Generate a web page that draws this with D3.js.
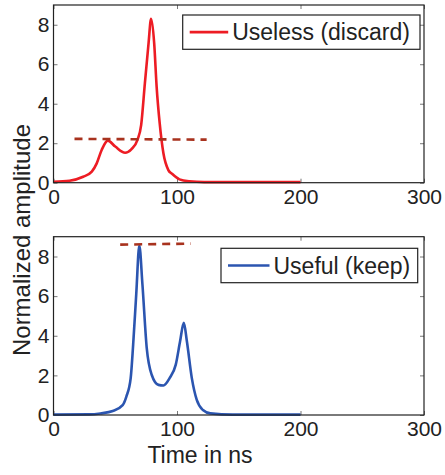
<!DOCTYPE html>
<html>
<head>
<meta charset="utf-8">
<script src="https://cdn.jsdelivr.net/npm/d3@7"></script>
<style>
  body { margin: 0; background: #fff; }
  text { font-family: "Liberation Sans", Arial, sans-serif; fill: #222; }
</style>
</head>
<body>
<div id="chart"></div>
<script>
// Two stacked waveform panels

// Data
var uselessTime = [0, 13, 24, 31, 35, 39, 44, 50, 58, 63, 68, 71, 74, 77, 79, 81.5, 83.5, 86, 89, 93, 96, 102, 110, 122, 200];
var uselessAmp  = [0.05, 0.1, 0.3, 0.56, 0.98, 1.66, 2.13, 1.83, 1.52, 1.69, 2.17, 2.93, 5.04, 7.08, 8.3, 7.08, 4.87, 3.0, 1.49, 0.64, 0.45, 0.17, 0.07, 0.03, 0.03];
var usefulTime = [0, 29, 38, 48, 56, 59, 62.5, 64.5, 67, 69.5, 72, 75.5, 79.5, 85, 89, 94, 99, 102.5, 105.5, 108, 112, 116, 121, 127, 145, 200];
var usefulAmp  = [0.02, 0.03, 0.08, 0.2, 0.5, 0.93, 1.86, 3.55, 6.1, 8.55, 6.6, 3.38, 2.03, 1.52, 1.49, 1.86, 2.54, 3.72, 4.65, 3.72, 1.86, 0.76, 0.25, 0.08, 0.02, 0.02];

// dashed threshold lines
var uselessThreshTime = [17, 124];
var uselessThreshAmp = [2.22, 2.18];
var usefulThreshTime = [54, 111];
var usefulThreshAmp = [8.6, 8.65];

var xTicks = [0, 100, 200, 300];
var yTicks = [0, 2, 4, 6, 8];
var legendLabels = ["Useless (discard)", "Useful (keep)"];

// SVG Dimensions
var svgWidth = 445;
var svgHeight = 475;

var left = 53.5, right = 424;

var svg = d3.select("#chart")
    .append("svg")
    .attr("width", svgWidth)
    .attr("height", svgHeight);

var xScale = d3.scaleLinear().domain([0, 300]).range([left, right]);

function drawPanel(top, bottom, time, amp, tTime, tAmp, color, label, legBox) {
    var yScale = d3.scaleLinear().domain([0, 9]).range([bottom, top]);
    var g = svg.append("g");

    // ticks inward on all four sides
    g.append("g").attr("transform", `translate(0, ${bottom})`)
        .call(d3.axisBottom(xScale).tickValues(xTicks).tickSize(-4).tickPadding(6))
        .call(a => a.select(".domain").remove());
    g.append("g").attr("transform", `translate(0, ${top})`)
        .call(d3.axisTop(xScale).tickValues(xTicks).tickSize(-4).tickFormat(""))
        .call(a => a.select(".domain").remove());
    g.append("g").attr("transform", `translate(${left}, 0)`)
        .call(d3.axisLeft(yScale).tickValues(yTicks).tickSize(-4).tickPadding(4))
        .call(a => a.select(".domain").remove());
    g.append("g").attr("transform", `translate(${right}, 0)`)
        .call(d3.axisRight(yScale).tickValues(yTicks).tickSize(-4).tickFormat(""))
        .call(a => a.select(".domain").remove());

    g.selectAll(".tick line").attr("stroke", "#777");
    g.selectAll(".tick text")
        .attr("font-size", 21)
        .style("font-family", "Liberation Sans, Arial, sans-serif")
        .attr("fill", "#222");

    var line = d3.line()
        .x((d, i) => xScale(time[i]))
        .y(d => yScale(d))
        .curve(d3.curveMonotoneX);

    g.append("path")
        .datum(amp)
        .attr("d", line)
        .attr("fill", "none")
        .attr("stroke", color)
        .attr("stroke-width", 2.6)
        .attr("stroke-linejoin", "round");

    var dashLine = d3.line()
        .x((d, i) => xScale(tTime[i]))
        .y(d => yScale(d));

    g.append("path")
        .datum(tAmp)
        .attr("d", dashLine)
        .attr("fill", "none")
        .attr("stroke", "#a8321e")
        .attr("stroke-width", 2.6)
        .attr("stroke-dasharray", "8,6");

    // box
    g.append("rect")
        .attr("x", left).attr("y", top)
        .attr("width", right - left).attr("height", bottom - top)
        .attr("fill", "none").attr("stroke", "#222").attr("stroke-width", 1.2);

    // legend
    var leg = g.append("g");
    leg.append("rect")
        .attr("x", legBox.x).attr("y", legBox.y)
        .attr("width", legBox.w).attr("height", legBox.h)
        .attr("fill", "#fff").attr("stroke", "#222").attr("stroke-width", 1.2);
    leg.append("line")
        .attr("x1", legBox.x + 7).attr("x2", legBox.x + 7 + legBox.line)
        .attr("y1", legBox.y + legBox.h / 2).attr("y2", legBox.y + legBox.h / 2)
        .attr("stroke", color).attr("stroke-width", 2.6);
    leg.append("text")
        .attr("x", legBox.x + 11 + legBox.line)
        .attr("y", legBox.y + legBox.h / 2 + 8)
        .attr("font-size", 23)
        .text(label);
}

drawPanel(5, 182.7, uselessTime, uselessAmp, uselessThreshTime, uselessThreshAmp,
    "#ed1c24", legendLabels[0], {x: 182.7, y: 15, w: 237.3, h: 34.3, line: 38.5});
drawPanel(236.7, 415, usefulTime, usefulAmp, usefulThreshTime, usefulThreshAmp,
    "#2b55b0", legendLabels[1], {x: 221, y: 248.3, w: 196.7, h: 34.4, line: 41.5});

// axis titles
svg.append("text")
    .attr("x", 200).attr("y", 463)
    .attr("text-anchor", "middle")
    .attr("font-size", 23)
    .text("Time in ns");

svg.append("text")
    .attr("transform", "translate(30, 240) rotate(-90)")
    .attr("text-anchor", "middle")
    .attr("font-size", 24)
    .text("Normalized amplitude");
</script>
</body>
</html>
